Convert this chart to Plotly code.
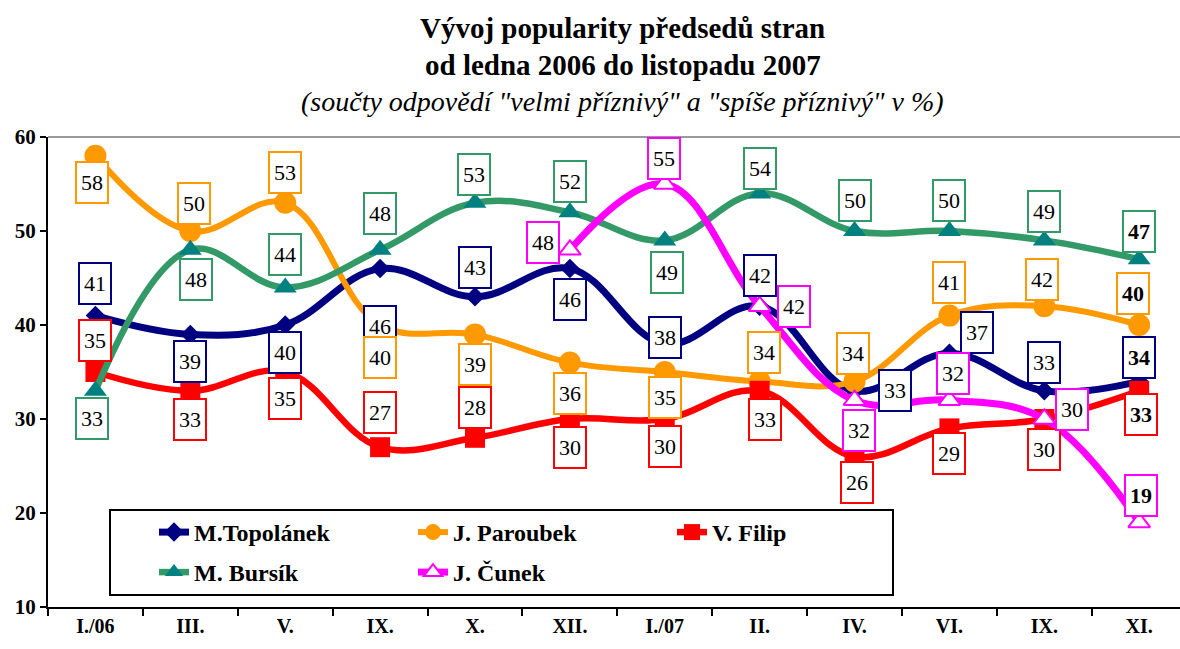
import plotly.graph_objects as go

categories = ["I./06", "III.", "V.", "IX.", "X.", "XII.", "I./07", "II.", "IV.", "VI.", "IX.", "XI."]
topolanek = [41, 39, 40, 46, 43, 46, 38, 42, 33, 37, 33, 34]
paroubek = [58, 50, 53, 40, 39, 36, 35, 34, 34, 41, 42, 40]
filip = [35, 33, 35, 27, 28, 30, 30, 33, 26, 29, 30, 33]
bursik = [33, 48, 44, 48, 53, 52, 49, 54, 50, 50, 49, 47]
cunek = [None, None, None, None, None, 48, 55, 42, 32, 32, 30, 19]
y_ticks = [10, 20, 30, 40, 50, 60]

# label offsets in screen pixels (dx right, dy down)
off_top = [(0, -32), (0, 27), (0, 27), (0, 58), (0, -29), (0, 31), (0, -6), (0, -31), (40, 0), (28, -21), (0, -28), (0, -24)]
off_par = [(-3, 27), (4, -28), (0, -30), (0, 32), (0, 30), (0, 31), (0, 25), (4, -29), (-2, -28), (0, -33), (-2, -27), (-6, -32)]
off_fil = [(0, -32), (0, 29), (0, 26), (0, -35), (0, -30), (0, 28), (0, 27), (5, 29), (2, 26), (0, 25), (0, 30), (2, 24)]
off_bur = [(-3, 28), (6, 30), (0, -33), (0, -36), (-1, -28), (0, -31), (2, 32), (0, -25), (0, -31), (0, -31), (0, -29), (0, -28)]
off_cun = [None, None, None, None, None, (-27, -7), (-1, -26), (34, 0), (4, 30), (4, -27), (28, -10), (2, -27)]

FONT = "Liberation Serif"
xs = list(range(len(categories)))

series = [
    dict(name="M.Topolánek", y=topolanek, line="#000080", mcol="#000080", sym="diamond", size=15,
         off=off_top, legend="legend", mline=None, lw=7),
    dict(name="J. Paroubek", y=paroubek, line="#FF9900", mcol="#FF9900", sym="circle", size=22,
         off=off_par, legend="legend", mline=None, lw=6),
    dict(name="V. Filip", y=filip, line="#FF0000", mcol="#FF0000", sym="square", size=20,
         off=off_fil, legend="legend", mline=None, lw=6.5),
    dict(name="M. Bursík", y=bursik, line="#339966", mcol="#008080", sym="triangle-up", size=20,
         off=off_bur, legend="legend2", mline=None, lw=6.5),
    dict(name="J. Čunek", y=cunek, line="#FF00FF", mcol="#FFFFFF", sym="triangle-up", size=19,
         off=off_cun, legend="legend2", mline="#FF00FF", lw=7),
]

fig = go.Figure()
annotations = []
for s in series:
    marker = dict(symbol=s["sym"], size=s["size"], color=s["mcol"])
    if s["mline"]:
        marker["line"] = dict(color=s["mline"], width=2)
    else:
        marker["line"] = dict(width=0)
    fig.add_trace(go.Scatter(
        x=xs, y=s["y"], name=s["name"], mode="lines+markers",
        line=dict(color=s["line"], width=s["lw"], shape="spline", smoothing=1.1),
        marker=marker, legend=s["legend"], connectgaps=False,
    ))
    last = len(xs) - 1
    for i, v in enumerate(s["y"]):
        if v is None:
            continue
        dx, dy = s["off"][i]
        txt = f"<b>{v}</b>" if i == last else str(v)
        annotations.append(dict(
            x=xs[i], y=v, xref="x", yref="y", text=txt, showarrow=False,
            xshift=dx, yshift=-dy, font=dict(family=FONT, size=22, color="black"),
            bgcolor="white", bordercolor=s["line"], borderwidth=2, borderpad=1,
            width=28, height=37,
        ))

W, H = 1180, 649
L, R, T, B = 48, 0, 137, 42
pw, ph = W - L - R, H - T - B

def px_x(p):
    return (p - L) / pw

def px_y(p):
    return (H - B - p) / ph

title_lines = [
    ("<b>Vývoj popularity předsedů stran</b>", 28, 29, "normal"),
    ("<b>od ledna 2006 do listopadu 2007</b>", 65, 29, "normal"),
    ("(součty odpovědí \"velmi příznivý\" a \"spíše příznivý\" v %)", 102, 28, "italic"),
]
for text, yc, sz, st in title_lines:
    annotations.append(dict(
        x=(623 - L) / pw, y=px_y(yc), xref="paper", yref="paper", text=text,
        showarrow=False, xanchor="center", yanchor="middle",
        font=dict(family=FONT, size=sz, color="black", style=st),
    ))

legend_font = dict(family=FONT, size=24, color="black", weight="bold")
fig.update_layout(
    width=W, height=H,
    margin=dict(l=L, r=R, t=T, b=B, pad=0),
    paper_bgcolor="white", plot_bgcolor="white",
    font=dict(family=FONT, color="black"),
    annotations=annotations,
    showlegend=True,
    legend=dict(orientation="h", x=px_x(154), y=px_y(510), xanchor="left", yanchor="top",
                bgcolor="rgba(0,0,0,0)", borderwidth=0, entrywidth=214, entrywidthmode="pixels",
                font=legend_font),
    legend2=dict(orientation="h", x=px_x(154), y=px_y(550), xanchor="left", yanchor="top",
                 bgcolor="rgba(0,0,0,0)", borderwidth=0, entrywidth=214, entrywidthmode="pixels",
                 font=legend_font),
    shapes=[
        dict(type="rect", xref="paper", yref="paper", x0=px_x(110), x1=px_x(893),
             y0=px_y(595), y1=px_y(510), line=dict(color="black", width=2),
             fillcolor="white", layer="below"),
        dict(type="line", xref="paper", yref="paper", x0=0, x1=1, y0=1, y1=1,
             line=dict(color="#999999", width=2)),
    ],
)

fig.update_xaxes(
    range=[-0.5, 11.43], tickvals=xs, ticktext=[f"<b>{c}</b>" for c in categories],
    ticks="", showgrid=False, zeroline=False, showline=True, linecolor="black", linewidth=2,
    tickfont=dict(family=FONT, size=20, color="black"),
    minor=dict(ticks="outside", tick0=-0.5, dtick=1, ticklen=7, tickcolor="black", tickwidth=2, showgrid=False),
    fixedrange=True,
)
fig.update_yaxes(
    range=[10, 60], tickvals=y_ticks, ticktext=[f"<b>{t}</b>" for t in y_ticks],
    ticks="outside", ticklen=6, tickwidth=2, tickcolor="black",
    showgrid=False, zeroline=False, showline=True, linecolor="black", linewidth=2,
    tickfont=dict(family=FONT, size=21, color="black"),
    fixedrange=True,
)

fig.write_html("out.html", config={"displayModeBar": False},
               post_script="document.body.style.margin='0';document.body.style.overflow='hidden';")
